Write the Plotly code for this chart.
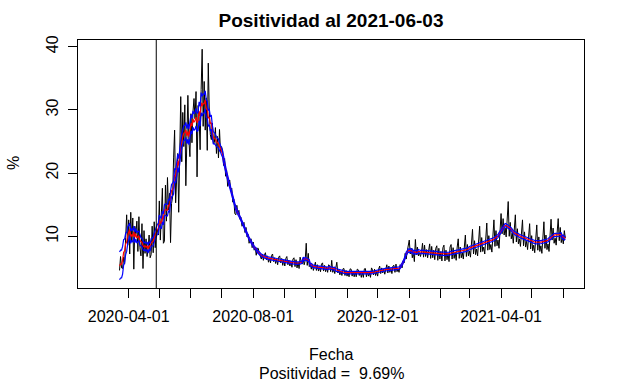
import numpy as np
import pandas as pd
import plotly.graph_objects as go

# Daily positivity (%) from 2020-03-23 to 2021-06-03, in rows of consecutive days
positividad_filas = [
    [4.6, 6.8, 5.0],
    [4.9, 6.7, 5.6, 9.8, 13.4, 8.6, 12.6],
    [7.2, 13.8, 9.1, 12.9, 4.8, 11.6, 10.4],
    [12.4, 7.6, 13.1, 8.2, 6.9, 12.0, 4.9],
    [10.9, 7.3, 9.6, 6.8, 8.1, 10.2, 6.6],
    [7.1, 11.6, 7.4, 12.3, 8.2, 10.9, 11.1],
    [10.2, 15.6, 9.4, 13.1, 17.6, 8.9, 9.2],
    [18.1, 12.4, 19.3, 14.2, 16.8, 9.0, 15.2],
    [16.2, 22.4, 26.8, 15.3, 18.9, 23.1, 13.8],
    [23.4, 32.1, 21.8, 29.6, 24.2, 30.8, 18.0],
    [27.9, 32.3, 25.1, 22.6, 29.4, 24.8, 29.7],
    [31.8, 28.6, 32.9, 19.4, 30.7, 28.9, 23.7],
    [33.2, 39.6, 27.4, 34.5, 26.8, 31.9, 23.6],
    [37.4, 29.8, 26.1, 25.3, 27.9, 24.6, 24.9],
    [27.2, 23.1, 25.8, 22.4, 26.9, 23.3, 24.2],
    [23.6, 21.2, 22.3, 19.5, 20.4, 17.9, 18.6],
    [18.9, 17.2, 17.6, 15.4, 15.9, 13.6, 13.4],
    [14.9, 13.6, 14.1, 12.7, 13.0, 11.6, 11.8],
    [12.2, 10.6, 11.4, 9.9, 10.3, 8.9, 9.5],
    [9.6, 8.2, 9.1, 7.8, 8.3, 7.0, 8.1],
    [8.1, 7.3, 6.8, 6.4, 7.2, 6.2, 7.0],
    [7.4, 6.3, 6.9, 5.9, 6.6, 5.8, 6.95],
    [7.2, 6.0, 6.6, 5.7, 6.4, 5.5, 6.7],
    [6.9, 5.8, 6.5, 5.4, 6.3, 5.3, 6.5],
    [6.8, 5.5, 6.2, 5.3, 6.0, 5.1, 6.4],
    [6.6, 5.2, 6.3, 5.0, 5.9, 4.9, 6.7],
    [6.1, 5.6, 6.4, 5.5, 6.2, 8.9, 5.4],
    [7.3, 5.2, 5.6, 4.8, 5.5, 4.6, 5.5],
    [5.9, 4.6, 5.5, 4.5, 5.2, 4.4, 5.6],
    [5.8, 4.5, 5.4, 4.4, 5.1, 4.3, 5.5],
    [5.3, 4.4, 6.2, 4.3, 4.8, 4.1, 4.85],
    [5.9, 4.2, 4.7, 3.9, 4.5, 3.8, 4.85],
    [4.9, 3.8, 4.6, 3.7, 4.3, 3.6, 4.85],
    [4.8, 3.7, 4.5, 3.6, 4.4, 3.6, 4.8],
    [4.7, 3.8, 4.4, 3.5, 4.3, 3.5, 4.85],
    [4.9, 3.6, 4.5, 3.7, 4.2, 3.5, 5.0],
    [4.7, 3.9, 4.8, 3.8, 4.4, 3.7, 4.8],
    [5.3, 4.1, 5.0, 4.2, 4.8, 4.0, 5.15],
    [5.5, 4.2, 5.3, 4.3, 4.9, 4.1, 5.3],
    [5.4, 4.3, 5.6, 4.4, 4.8, 4.3, 5.5],
    [5.2, 5.0, 6.1, 5.8, 7.3, 6.4, 7.6],
    [8.4, 9.4, 7.2, 8.1, 6.6, 7.5, 6.0],
    [9.5, 7.1, 8.3, 6.9, 7.4, 6.8, 7.55],
    [8.9, 6.7, 8.6, 6.8, 7.9, 6.6, 7.7],
    [8.8, 6.5, 8.4, 6.6, 7.8, 6.3, 8.1],
    [8.5, 6.2, 8.1, 6.4, 7.6, 6.1, 8.2],
    [8.6, 6.1, 7.8, 6.3, 7.3, 6.0, 8.3],
    [8.7, 6.4, 8.2, 6.5, 7.5, 6.2, 8.3],
    [9.6, 6.5, 8.3, 6.6, 7.4, 6.4, 8.4],
    [10.2, 6.8, 8.7, 6.9, 7.7, 6.7, 9.0],
    [11.1, 7.2, 9.3, 7.1, 8.0, 6.9, 9.55],
    [11.6, 7.5, 9.8, 7.6, 8.3, 7.2, 9.95],
    [12.1, 7.8, 10.1, 7.9, 8.7, 7.5, 10.3],
    [12.6, 8.4, 10.9, 8.5, 9.4, 8.1, 11.4],
    [13.6, 10.4, 12.8, 10.2, 11.3, 9.9, 12.3],
    [15.5, 10.0, 12.2, 9.6, 10.5, 8.9, 11.0],
    [13.4, 9.1, 11.2, 8.8, 9.6, 8.4, 10.9],
    [12.6, 8.5, 10.7, 8.3, 9.2, 7.9, 10.7],
    [12.0, 8.0, 10.1, 7.7, 8.6, 7.4, 10.25],
    [11.8, 7.8, 9.9, 7.6, 8.5, 7.3, 10.1],
    [12.3, 8.1, 10.2, 7.9, 8.8, 7.6, 10.2],
    [12.7, 9.4, 11.3, 8.9, 9.7, 8.6, 10.8],
    [12.8, 9.3, 11.4, 9.0, 9.9, 8.8, 10.9],
    [9.69],
]

# Half-width of the blue band (percentage points), one value per 7 days
semi_ancho_banda = [
    2.2, 1.0, 0.8, 0.6, 0.6, 0.8, 0.9, 1.0, 1.1, 1.2, 1.3, 1.6, 1.3, 0.8,
    0.5, 0.35, 0.3, 0.25, 0.2, 0.2, 0.2, 0.2, 0.2, 0.2, 0.2, 0.2, 0.2, 0.2,
    0.2, 0.2, 0.2, 0.2, 0.2, 0.2, 0.2, 0.2, 0.2, 0.2, 0.2, 0.2, 0.25, 0.25,
    0.25, 0.25, 0.25, 0.25, 0.25, 0.25, 0.25, 0.25, 0.25, 0.25, 0.25, 0.25,
    0.25, 0.25, 0.25, 0.25, 0.25, 0.25, 0.25, 0.25, 0.25,
]

fecha_inicio = "2020-03-23"
fecha_marca = "2020-04-28"
ticks_fechas = ["2020-04-01", "2020-05-01", "2020-06-01", "2020-07-01", "2020-08-01",
                "2020-09-01", "2020-10-01", "2020-11-01", "2020-12-01", "2021-01-01",
                "2021-02-01", "2021-03-01", "2021-04-01", "2021-05-01", "2021-06-01"]
ticks_etiquetas = ["2020-04-01", "", "", "", "2020-08-01", "", "", "", "2020-12-01",
                   "", "", "", "2021-04-01", "", ""]
y_ticks = [10, 20, 30, 40]

valores = [v for fila in positividad_filas for v in fila]
n = len(valores)
fechas = pd.date_range(fecha_inicio, periods=n, freq="D")
serie = pd.Series(valores, index=fechas)
media = serie.rolling(7, min_periods=1, center=True).mean()
hw = pd.Series(np.repeat(semi_ancho_banda, 7)[:n], index=fechas)
hw = hw.rolling(7, min_periods=1, center=True).mean()
sup = media + hw
inf = media - hw

FONT = "Liberation Sans, Arial, sans-serif"
W, H = 625, 386

fig = go.Figure()
fig.add_trace(go.Scatter(x=fechas, y=serie, mode="lines",
                         line=dict(color="black", width=1), showlegend=False))
fig.add_trace(go.Scatter(x=fechas, y=media, mode="lines",
                         line=dict(color="#FF0000", width=1.2), showlegend=False))
fig.add_trace(go.Scatter(x=fechas, y=sup, mode="lines",
                         line=dict(color="#0000FF", width=1.2), showlegend=False))
fig.add_trace(go.Scatter(x=fechas, y=inf, mode="lines",
                         line=dict(color="#0000FF", width=1.2), showlegend=False))

fig.add_shape(type="line", xref="x", yref="paper", x0=fecha_marca, x1=fecha_marca,
              y0=0, y1=1, line=dict(color="black", width=1))

fig.update_layout(
    width=W, height=H,
    margin=dict(l=78, r=41, t=40, b=98),
    paper_bgcolor="white", plot_bgcolor="white",
    font=dict(family=FONT, size=16, color="black"),
    title=dict(text="<b>Positividad al 2021-06-03</b>", x=0.5, xref="paper",
               y=1 - 20 / H, yref="container", yanchor="middle",
               font=dict(size=19, family=FONT, color="black")),
    xaxis=dict(type="date", range=["2020-02-11 07:00", "2021-06-21 07:00"],
               tickmode="array", tickvals=ticks_fechas, ticktext=ticks_etiquetas,
               ticks="outside", ticklen=9, tickcolor="black", tickwidth=1,
               showline=True, mirror=True, linecolor="black", linewidth=1,
               showgrid=False, zeroline=False, ticklabelstandoff=5,
               tickfont=dict(size=16, family=FONT, color="black")),
    yaxis=dict(range=[1.82, 41.06], tickmode="array", tickvals=y_ticks,
               ticktext=[str(t) for t in y_ticks], tickangle=-90,
               ticks="outside", ticklen=9, tickcolor="black", tickwidth=1,
               showline=True, mirror=True, linecolor="black", linewidth=1,
               showgrid=False, zeroline=False, ticklabelstandoff=4,
               tickfont=dict(size=16, family=FONT, color="black")),
    annotations=[
        dict(text="%", xref="paper", yref="paper", x=(13 - 78) / 506, y=(288 - 163) / 248,
             xanchor="center", yanchor="middle", textangle=-90, showarrow=False,
             font=dict(size=16, family=FONT, color="black")),
        dict(text="Fecha", xref="paper", yref="paper", x=0.5, y=0, yshift=-66,
             xanchor="center", yanchor="middle", showarrow=False,
             font=dict(size=16, family=FONT, color="black")),
        dict(text="Positividad = \u00a09.69%", xref="paper", yref="paper", x=0.5, y=0,
             yshift=-85, xanchor="center", yanchor="middle", showarrow=False,
             font=dict(size=16, family=FONT, color="black")),
    ],
)

# remove the default 8px page margin so the figure fills the window exactly
fig.write_html("out.html", config={"displayModeBar": False},
               post_script="document.body.style.margin='0';")
